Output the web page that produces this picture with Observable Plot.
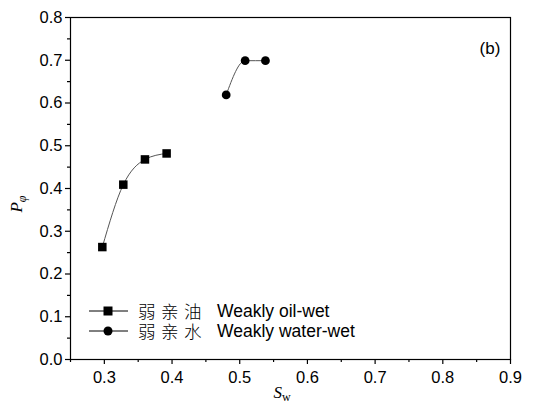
<!DOCTYPE html>
<html>
<head>
<meta charset="utf-8">
<script src="https://cdn.jsdelivr.net/npm/d3@7"></script>
<script src="https://cdn.jsdelivr.net/npm/@observablehq/plot@0.6"></script>
<style>
  html, body { margin: 0; padding: 0; background: #fff; }
  #chart { width: 537px; height: 407px; }
</style>
</head>
<body>
<div id="chart"></div>
<script>
// Data
const oilSw = [0.297, 0.328, 0.360, 0.392];
const oilP = [0.263, 0.409, 0.468, 0.482];
const waterSw = [0.480, 0.508, 0.538];
const waterP = [0.619, 0.699, 0.699];

const xTicks = [0.3, 0.4, 0.5, 0.6, 0.7, 0.8, 0.9];
const xMinor = [0.25, 0.35, 0.45, 0.55, 0.65, 0.75, 0.85];
const yTicks = [0.0, 0.1, 0.2, 0.3, 0.4, 0.5, 0.6, 0.7, 0.8];
const yMinor = [0.05, 0.15, 0.25, 0.35, 0.45, 0.55, 0.65, 0.75];

const seriesLabels = [
  {cn: "弱亲油", en: "Weakly oil-wet", symbol: "square"},
  {cn: "弱亲水", en: "Weakly water-wet", symbol: "circle"}
];

const oil = oilSw.map((x, i) => ({x, y: oilP[i]}));
const water = waterSw.map((x, i) => ({x, y: waterP[i]}));

const font = "Liberation Sans, Arial, sans-serif";

const plot = Plot.plot({
  width: 537,
  height: 407,
  marginLeft: 70,
  marginRight: 27,
  marginTop: 17,
  marginBottom: 48,
  style: {fontFamily: font, fontSize: "16.5px", color: "#000", background: "#fff"},
  x: {domain: [0.25, 0.9]},
  y: {domain: [0, 0.8]},
  marks: [
    Plot.frame({stroke: "#000", strokeWidth: 1.2}),
    Plot.axisX({ticks: xTicks, tickFormat: d3.format(".1f"), tickSize: 5, tickPadding: 7, label: null, strokeWidth: 1.2}),
    Plot.axisX({ticks: xMinor, tickSize: 3, text: null, label: null, strokeWidth: 1.2}),
    Plot.axisY({ticks: yTicks, tickFormat: d3.format(".1f"), tickSize: 5, tickPadding: 3, label: null, strokeWidth: 1.2}),
    Plot.axisY({ticks: yMinor, tickSize: 3, text: null, label: null, strokeWidth: 1.2}),
    Plot.line(oil, {x: "x", y: "y", curve: "monotone-x", stroke: "#555", strokeWidth: 1}),
    Plot.line(water, {x: "x", y: "y", curve: "monotone-x", stroke: "#555", strokeWidth: 1}),
    Plot.dot(oil, {x: "x", y: "y", symbol: "square", r: 4.8, fill: "#000", stroke: "none"}),
    Plot.dot(water, {x: "x", y: "y", symbol: "circle", r: 4.4, fill: "#000", stroke: "none"})
  ]
});

document.getElementById("chart").appendChild(plot);

const svg = d3.select(plot);

// Panel label
svg.append("text")
  .attr("x", 490).attr("y", 54)
  .attr("text-anchor", "middle")
  .style("font-family", font).style("font-size", "17px")
  .text("(b)");

// Y axis title: P_φ (italic)
const yt = svg.append("text")
  .attr("transform", "translate(22,204) rotate(-90)")
  .attr("text-anchor", "middle")
  .style("font-family", "Liberation Serif, Times New Roman, serif")
  .style("font-size", "17px");
yt.append("tspan").style("font-style", "italic").text("P");
yt.append("tspan").attr("dy", 4).style("font-size", "12px").style("font-style", "italic").text("φ");

// X axis title: S_w
const xt = svg.append("text")
  .attr("x", 282).attr("y", 398)
  .attr("text-anchor", "middle")
  .style("font-family", "Liberation Serif, Times New Roman, serif")
  .style("font-size", "17px");
xt.append("tspan").style("font-style", "italic").text("S");
xt.append("tspan").attr("dy", 3).style("font-size", "12px").text("w");

// Legend inside plot
const legend = svg.append("g").attr("text-anchor", "start");
seriesLabels.forEach((s, i) => {
  const cy = 311 + i * 20;
  const g = legend.append("g").attr("transform", `translate(0,${cy})`);
  g.append("line").attr("x1", 89).attr("x2", 128).attr("y1", 0).attr("y2", 0)
    .attr("stroke", "#000").attr("stroke-width", 1);
  g.append("path")
    .attr("transform", "translate(108,0)")
    .attr("d", d3.symbol(s.symbol === "square" ? d3.symbolSquare : d3.symbolCircle, s.symbol === "square" ? 81 : 64)())
    .attr("fill", "#000");
  g.append("text").attr("x", 138).attr("y", 6.5)
    .attr("text-anchor", "start")
    .style("font-family", "Noto Sans CJK SC, sans-serif")
    .style("font-weight", "300")
    .style("font-size", "17.5px")
    .style("letter-spacing", "5.5px")
    .text(s.cn);
  g.append("text").attr("x", 217).attr("y", 6)
    .attr("text-anchor", "start")
    .style("font-family", font)
    .style("font-size", "17.5px")
    .text(s.en);
});
</script>
</body>
</html>
